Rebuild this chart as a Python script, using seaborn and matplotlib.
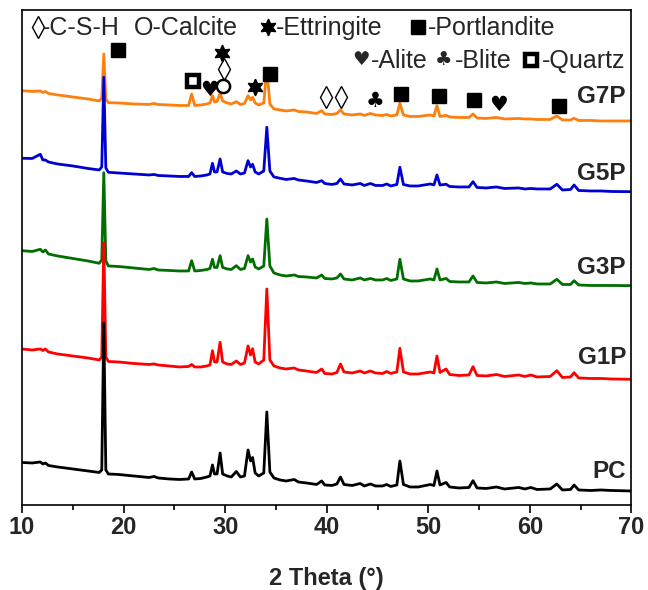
import numpy as np
import pandas as pd
import matplotlib
matplotlib.use("Agg")
import matplotlib.pyplot as plt
import seaborn as sns

# ---------------- data ----------------
two_theta = [10.0, 11.0, 11.8, 12.05, 12.3, 12.6, 13.5, 15.0, 16.5, 17.6,
             17.85, 18.05, 18.25, 18.5, 19.5, 21.0, 22.5, 23.0, 23.4, 24.5,
             25.5, 26.4, 26.7, 27.0, 27.6, 28.2, 28.5, 28.75, 28.95, 29.2,
             29.5, 29.75, 30.2, 30.6, 31.1, 31.5, 31.9, 32.25, 32.5, 32.7,
             32.95, 33.3, 33.8, 34.1, 34.4, 34.8, 35.4, 36.0, 36.8, 37.2,
             38.0, 39.0, 39.5, 39.8, 40.5, 41.0, 41.35, 41.7, 42.5, 43.3,
             43.7, 44.3, 44.8, 45.5, 45.9, 46.3, 46.9, 47.2, 47.55, 48.2,
             49.0, 50.2, 50.55, 50.85, 51.15, 51.75, 52.1, 53.0, 54.0, 54.4,
             54.8, 55.7, 56.7, 57.5, 58.9, 59.5, 60.1, 60.7, 62.0, 62.65,
             63.2, 64.0, 64.35, 64.8, 66.0, 67.0, 68.0, 70.0]

pc = [40.5, 40, 41, 39, 40, 37.5, 36, 34, 32, 30.5,
      33, 180, 33, 29, 28.5, 27, 25.5, 26.5, 25, 24,
      23.5, 24, 31, 24, 24.5, 26, 27, 38, 29, 29,
      50, 29, 27, 26, 31.5, 26, 27, 53, 42, 45.5,
      30, 27, 30, 91, 31, 25, 23, 22, 23.5, 21,
      20, 18.5, 22, 18, 17.5, 19, 26, 18.5, 17.5, 19.5,
      17, 19, 17, 17, 18.5, 16.5, 18, 42, 18.5, 16,
      16, 18.5, 17.5, 32, 18, 20.5, 16, 15, 15.5, 22.3,
      15, 14.5, 16, 14, 15.5, 14, 15.5, 13.5, 14, 19,
      13, 13.5, 18, 13, 12.5, 13, 12.5, 12]

g1p = [154, 153, 154, 152.5, 154, 151, 149, 147, 145, 143,
       146, 260, 146, 141.5, 141, 139.5, 138.5, 139, 138, 137,
       136, 136.5, 138.5, 136, 136, 137, 138, 152.3, 141, 141,
       160.7, 141, 139, 138.5, 142, 138.5, 140, 157, 148, 154.3,
       141, 139, 143, 214, 143, 137, 135, 134, 135, 133,
       132, 130.5, 134, 129.5, 129, 130.5, 139, 131, 130, 132,
       130, 132, 130, 129.5, 131.5, 129.5, 131, 154.7, 131, 129,
       129, 131, 130, 147, 130.5, 134, 128.5, 127.5, 128, 136.3,
       127.5, 127, 128.5, 126.5, 128, 126.5, 128, 126, 126.5, 132.3,
       125.5, 126, 130.3, 125, 124.5, 124.5, 124, 123.7]

g3p = [252.3, 251.5, 253.7, 251, 253, 249, 247, 244.5, 242, 239.7,
       243, 330.3, 242, 237, 236.5, 235, 233.5, 234.5, 233, 232.5,
       232, 232, 242.3, 232, 232.5, 233.5, 234.5, 243.7, 235.5, 235.5,
       247.3, 235.5, 234, 233.5, 237.3, 233.5, 234.5, 247.3, 241, 244,
       236, 234, 237, 284, 237, 230, 228, 227, 228, 226.5,
       226, 225, 228, 224.5, 224, 225, 229, 224, 223, 225,
       223, 224.5, 223, 223, 224.5, 222.5, 224, 243.7, 224, 222,
       222, 224, 223, 234, 223, 224.5, 221.5, 221, 221, 227,
       220.5, 220, 221, 219.5, 220.5, 219.5, 220, 219, 219, 223.7,
       218.5, 218.5, 222.3, 218, 217.5, 217.5, 217.5, 217.3]

g5p = [344.7, 344.5, 348.7, 343, 343, 341, 339, 337, 334.5, 333,
       336, 425.7, 335, 330.7, 330, 329, 328, 328.5, 327.5, 327,
       326.5, 326.5, 330.3, 326.5, 327, 328, 329, 339.7, 331, 331,
       344, 331, 329.5, 329, 332, 329, 330, 342.3, 336, 338.7,
       331, 329, 332, 375.7, 332, 326, 324.7, 323.5, 324.5, 323,
       322, 320.5, 322.3, 319.5, 318.5, 319.5, 324, 319, 318, 319.5,
       317.5, 319.5, 317.5, 317.5, 319, 317, 318.5, 335.7, 318.5, 317,
       317, 319, 318, 328, 318, 318.7, 316.5, 316, 316, 321.3,
       315.5, 315, 316, 314.5, 315, 314, 314.5, 314, 314, 318.7,
       313, 313.5, 318, 312.5, 312, 312, 311.5, 311.3]

g7p = [412.3, 411.5, 412, 410.5, 411.5, 409.5, 408, 406, 404, 402,
       405, 449, 404, 400.3, 400, 399, 398.5, 399.5, 398.5, 398,
       397.5, 397.5, 409, 397.5, 398, 399, 400, 407.3, 401, 401.5,
       409.7, 402, 400, 399, 401.3, 398.5, 399.5, 407.3, 403, 405.7,
       400, 398, 400, 434.7, 399, 394, 393, 392, 393, 391.5,
       391, 389.5, 392.3, 389, 388.5, 389.5, 393, 389, 388, 389,
       387.5, 389.5, 388, 387.5, 388.5, 387, 388, 399.7, 388, 386.5,
       386.5, 388, 387, 397.3, 386.5, 387.5, 386, 385.5, 385.5, 389,
       385, 384.5, 385.5, 384, 384.5, 384, 384, 383.5, 383.5, 387,
       383, 383, 384.7, 382.5, 382.5, 382, 382, 382]

samples = ["G7P", "G5P", "G3P", "G1P", "PC"]
sample_colors = ["#FF7F0E", "#0000D0", "#006E00", "#FF0000", "#000000"]
x_ticks = [10, 20, 30, 40, 50, 60, 70]

# phase marker positions (2theta, intensity)
portlandite_x = [19.48, 34.41, 47.31, 51.05, 54.50, 62.87]
portlandite_y = [453.3, 429, 409, 406.5, 402.5, 396.5]
quartz_x, quartz_y = [26.83], [422]
alite_x, alite_y = [28.41, 56.91], [413, 398]
calcite_x, calcite_y = [29.79], [417]
csh_x, csh_y = [29.89, 39.93, 41.41], [434.3, 405.5, 405.5]
ettringite_x, ettringite_y = [29.69, 32.91], [450, 416.3]
blite_x, blite_y = [44.75], [401.5]

# ---------------- figure ----------------
sns.set_theme(style="white")
plt.rcParams["font.family"] = ["Liberation Sans", "DejaVu Sans"]

fig = plt.figure(figsize=(6.48, 5.90), dpi=100)
ax = fig.add_axes([0.0340, 0.1441, 0.9405, 0.8390])

df = pd.concat([
    pd.DataFrame({"two_theta": two_theta, "intensity": vals, "sample": name})
    for name, vals in zip(samples, [g7p, g5p, g3p, g1p, pc])
])
sns.lineplot(data=df, x="two_theta", y="intensity", hue="sample",
             hue_order=samples, palette=sample_colors, estimator=None,
             sort=False, linewidth=2.0, legend=False, ax=ax)

# phase markers
mk_square = dict(ls="none", marker="s", ms=10.5, color="black")
mk_quartz = dict(ls="none", marker="s", ms=8, mfc="white", mec="black",
                 mew=3.2)
mk_circle = dict(ls="none", marker="o", ms=9.5, mfc="none", mec="black",
                 mew=1.8)
mk_diamond = dict(ls="none", marker="d", ms=11, mfc="none", mec="black",
                  mew=1.0)
mk_star = dict(ls="none", marker=(6, 1, 0), ms=12, color="black")

ax.plot(portlandite_x, portlandite_y, **mk_square)
ax.plot(quartz_x, quartz_y, **mk_quartz)
ax.plot(calcite_x, calcite_y, **mk_circle)
ax.plot(csh_x, csh_y, **mk_diamond)
ax.plot(ettringite_x, ettringite_y, **mk_star)
for xx, yy in zip(alite_x, alite_y):
    ax.text(xx, yy, "\u2665", ha="center", va="center", fontsize=15,
            family="DejaVu Sans", color="black")
for xx, yy in zip(blite_x, blite_y):
    ax.text(xx, yy, "\u2663", ha="center", va="center", fontsize=15,
            family="DejaVu Sans", color="black")

# legend block (text + markers placed from pixel positions)
x0, x1, y0, y1 = 22.0, 631.5, 505.0, 10.0


def ax_xy(px, py):
    return (px - x0) / (x1 - x0), (y0 - py) / (y0 - y1)


tr = ax.transAxes
fs_leg = 18
# line 1
ax.plot(*ax_xy(37.5, 27), transform=tr, clip_on=False, **mk_diamond)
ax.text(*ax_xy(42, 35), "-C-S-H", transform=tr, fontsize=fs_leg,
        va="baseline", ha="left")
ax.text(*ax_xy(134, 35), "O-Calcite", transform=tr, fontsize=fs_leg,
        va="baseline", ha="left")
ax.plot(*ax_xy(268, 27), transform=tr, clip_on=False, **mk_star)
ax.text(*ax_xy(276, 35), "-Ettringite", transform=tr, fontsize=fs_leg,
        va="baseline", ha="left")
ax.plot(*ax_xy(418.5, 27), transform=tr, clip_on=False, **mk_square)
ax.text(*ax_xy(428, 35), "-Portlandite", transform=tr, fontsize=fs_leg,
        va="baseline", ha="left")
# line 2
ax.text(*ax_xy(361, 60), "\u2665", transform=tr, fontsize=14,
        family="DejaVu Sans", ha="center", va="center")
ax.text(*ax_xy(371, 68.3), "-Alite", transform=tr, fontsize=fs_leg,
        va="baseline", ha="left")
ax.text(*ax_xy(444, 60), "\u2663", transform=tr, fontsize=14,
        family="DejaVu Sans", ha="center", va="center")
ax.text(*ax_xy(455, 68.3), "-Blite", transform=tr, fontsize=fs_leg,
        va="baseline", ha="left")
ax.plot(*ax_xy(531, 60), transform=tr, clip_on=False, **mk_quartz)
ax.text(*ax_xy(542, 68.3), "-Quartz", transform=tr, fontsize=fs_leg,
        va="baseline", ha="left")

# sample labels
label_py = [96.7, 173.3, 267.5, 358, 472]
for name, py in zip(samples, label_py):
    ax.text(*ax_xy(626, py), name, transform=tr, fontsize=17.5,
            fontweight="bold", ha="right", va="center")

# axes styling
ax.set_xlim(10, 70)
ax.set_ylim(-2, 493)
ax.set_xticks(x_ticks)
ax.set_xticks([15, 25, 35, 45, 55, 65], minor=True)
ax.set_yticks([])
ax.set_xticklabels([str(t) for t in x_ticks], fontsize=17,
                   fontweight="bold")
ax.tick_params(axis="x", which="major", direction="out", length=6,
               width=1.2, color="black", pad=2, bottom=True)
ax.tick_params(axis="x", which="minor", direction="out", length=3.5,
               width=1.2, color="black", bottom=True)
ax.set_xlabel("2 Theta (\u00b0)", fontsize=17, fontweight="bold",
              labelpad=20)
ax.set_ylabel("")
for sp in ax.spines.values():
    sp.set_visible(True)
    sp.set_color("black")
    sp.set_linewidth(1.2)

fig.savefig("out.png", dpi=100, facecolor="white")
